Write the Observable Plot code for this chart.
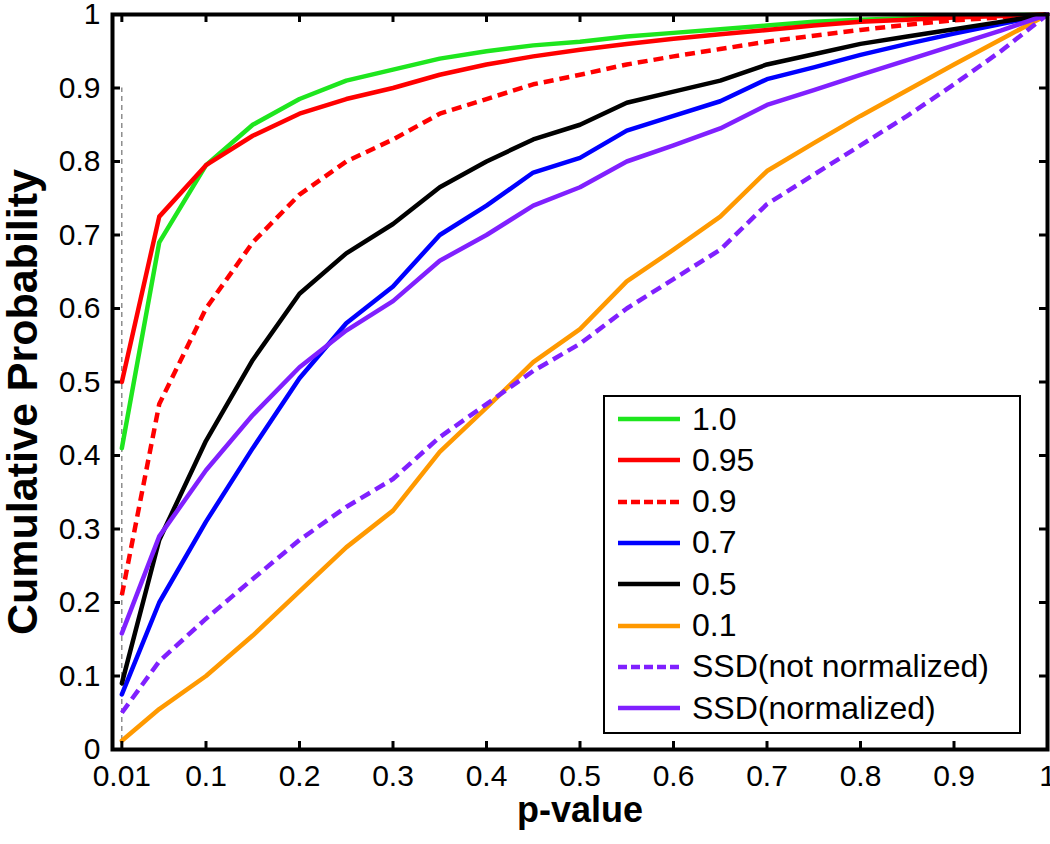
<!DOCTYPE html>
<html><head><meta charset="utf-8">
<script src="https://cdn.jsdelivr.net/npm/d3@7"></script>
<script src="https://cdn.jsdelivr.net/npm/@observablehq/plot@0.6"></script>
<style>
body{margin:0;background:#fff;font-family:"Liberation Sans",Arial,Helvetica,sans-serif;}
#wrap{position:relative;width:1050px;height:844px;overflow:hidden;}
#legend{position:absolute;left:603px;top:395px;width:414px;height:335px;border:2px solid #000;background:#fff;}
.row{position:absolute;left:0;height:40px;display:flex;align-items:center;font-size:32px;color:#000;white-space:nowrap;}
.row svg{margin-left:13px;margin-right:12px;}
</style></head><body><div id="wrap"></div>
<script>
// ---- data ----
const pValues = [0.01,0.05,0.1,0.15,0.2,0.25,0.3,0.35,0.4,0.45,0.5,0.55,0.6,0.65,0.7,0.75,0.8,0.85,0.9,0.95,1];
const seriesNames = ["1.0","0.95","0.9","0.7","0.5","0.1","SSD(not normalized)","SSD(normalized)"];
const s100 = [0.41,0.69,0.795,0.85,0.885,0.91,0.925,0.94,0.95,0.958,0.963,0.97,0.975,0.98,0.985,0.99,0.993,0.995,0.997,0.999,1];
const s095 = [0.50,0.725,0.795,0.835,0.865,0.885,0.90,0.918,0.932,0.943,0.952,0.96,0.967,0.973,0.979,0.985,0.99,0.993,0.996,0.998,1];
const s090 = [0.21,0.47,0.60,0.69,0.755,0.80,0.83,0.865,0.885,0.905,0.918,0.932,0.943,0.953,0.963,0.971,0.979,0.986,0.992,0.996,1];
const s070 = [0.075,0.20,0.31,0.41,0.505,0.58,0.63,0.70,0.74,0.785,0.805,0.842,0.862,0.882,0.912,0.928,0.945,0.96,0.974,0.987,1];
const s050 = [0.09,0.285,0.42,0.53,0.62,0.675,0.715,0.765,0.80,0.83,0.85,0.88,0.895,0.91,0.932,0.946,0.96,0.97,0.98,0.99,1];
const s010 = [0.012,0.055,0.10,0.155,0.215,0.275,0.325,0.405,0.465,0.527,0.572,0.637,0.68,0.725,0.787,0.825,0.862,0.897,0.932,0.966,1];
const ssdNotNorm = [0.05,0.12,0.178,0.232,0.285,0.33,0.368,0.425,0.47,0.515,0.552,0.60,0.64,0.68,0.742,0.782,0.822,0.862,0.905,0.95,1];
const ssdNorm = [0.158,0.29,0.38,0.455,0.52,0.57,0.61,0.665,0.70,0.74,0.765,0.80,0.822,0.845,0.877,0.897,0.918,0.938,0.958,0.978,1];
const xTicks = [0.01,0.1,0.2,0.3,0.4,0.5,0.6,0.7,0.8,0.9,1];
const xTickLabels = ["0.01","0.1","0.2","0.3","0.4","0.5","0.6","0.7","0.8","0.9","1"];
const yTicks = [0,0.1,0.2,0.3,0.4,0.5,0.6,0.7,0.8,0.9,1];
const yTickLabels = ["0","0.1","0.2","0.3","0.4","0.5","0.6","0.7","0.8","0.9","1"];
const refLineX = [0.01];

// ---- styles ----
const seriesValues = [s100,s095,s090,s070,s050,s010,ssdNotNorm,ssdNorm];
const seriesColors = ["#1ee61e","#ff0000","#ff0000","#0000ff","#000000","#ff9900","#8020ff","#8020ff"];
const seriesDash = [null,null,"10,6",null,null,null,"11,6",null];

const W = 1050, H = 844, mL = 112, mR = 3, mT = 14, mB = 95;
const innerW = W - mL - mR, innerH = H - mT - mB, tickLen = 8;
const xLab = new Map(xTicks.map((d,i)=>[d,xTickLabels[i]]));
const yLab = new Map(yTicks.map((d,i)=>[d,yTickLabels[i]]));

const lineMarks = seriesValues.map((vals, k) =>
  Plot.line(pValues.map((p,i)=>({x:p, y:vals[i]})), {
    x:"x", y:"y", stroke: seriesColors[k], strokeWidth: 4.5,
    strokeDasharray: seriesDash[k] || undefined, strokeLinejoin:"round", strokeLinecap: seriesDash[k] ? "butt" : "round"
  }));

const chart = Plot.plot({
  width: W, height: H, marginLeft: mL, marginRight: mR, marginTop: mT, marginBottom: mB,
  x: {domain:[0,1]}, y: {domain:[0,1]},
  style: {fontFamily:'"Liberation Sans", Arial, Helvetica, sans-serif', fontSize:"30px", color:"#000", background:"#fff", overflow:"visible"},
  marks: [
    Plot.ruleX(refLineX, {y1: 0, y2: 0.9, stroke:"#555", strokeWidth:1, strokeDasharray:"5,4"}),
    ...lineMarks,
    Plot.frame({stroke:"#000", strokeWidth:4}),
    Plot.tickX(xTicks, {x:d=>d, insetTop: innerH - tickLen, stroke:"#000", strokeWidth:3}),
    Plot.tickX(xTicks, {x:d=>d, insetBottom: innerH - tickLen, stroke:"#000", strokeWidth:3}),
    Plot.tickY(yTicks, {y:d=>d, insetRight: innerW - tickLen, stroke:"#000", strokeWidth:3}),
    Plot.tickY(yTicks, {y:d=>d, insetLeft: innerW - tickLen, stroke:"#000", strokeWidth:3}),
    Plot.axisX(xTicks, {tickSize:0, tickPadding:15, tickFormat:d=>xLab.get(d), fontSize:30, label:null}),
    Plot.axisY(yTicks, {tickSize:0, tickPadding:12, tickFormat:d=>yLab.get(d), fontSize:30, label:null}),
    Plot.text(["p-value"], {frameAnchor:"bottom", dy:72, fontSize:36, fontWeight:"bold", fill:"#000"}),
    Plot.text(["Cumulative Probability"], {frameAnchor:"left", textAnchor:"middle", rotate:-90, dx:-89, dy:20, fontSize:43, fontWeight:"bold", fill:"#000"})
  ]
});
const wrap = document.getElementById("wrap");
wrap.appendChild(chart);

// legend
const leg = document.createElement("div");
leg.id = "legend";
seriesNames.forEach((name,k)=>{
  const row = document.createElement("div");
  row.className = "row";
  row.style.top = (2 + k*41.3) + "px";
  const dash = seriesDash[k] ? `stroke-dasharray="9,4"` : "";
  row.innerHTML = `<svg width="62" height="10"><line x1="0" y1="5" x2="62" y2="5" stroke="${seriesColors[k]}" stroke-width="4.5" ${dash}/></svg><span>${name}</span>`;
  leg.appendChild(row);
});
wrap.appendChild(leg);
</script></body></html>
